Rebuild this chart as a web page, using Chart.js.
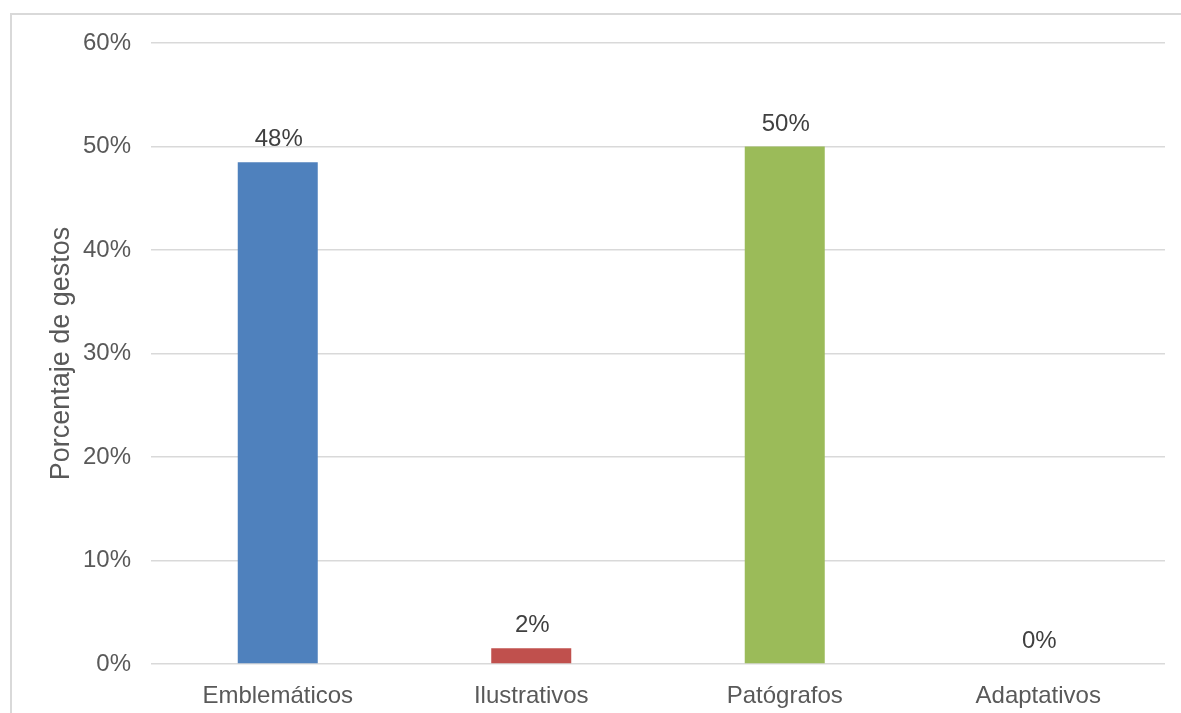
<!DOCTYPE html>
<html>
<head>
<meta charset="utf-8">
<script src="https://cdn.jsdelivr.net/npm/chart.js@4.4.1/dist/chart.umd.min.js"></script>
<style>
  html, body { margin: 0; padding: 0; background: #ffffff; }
  #wrap { position: relative; width: 1181px; height: 713px; }
</style>
</head>
<body>
<div id="wrap"><canvas id="c"></canvas></div>
<script>
const categories = ["Emblemáticos", "Ilustrativos", "Patógrafos", "Adaptativos"];
const values = [48.48, 1.52, 50, 0];
const barColors = ["#4F81BD", "#C0504D", "#9BBB59", "#8064A2"];
const yTicks = [0, 10, 20, 30, 40, 50, 60];
const yTitle = "Porcentaje de gestos";

const fontFamily = "'Liberation Sans', Arial, sans-serif";

const frame = {
  id: 'frame',
  beforeDraw(chart) {
    const ctx = chart.ctx;
    ctx.save();
    ctx.fillStyle = '#ffffff';
    ctx.fillRect(0, 0, chart.width, chart.height);
    ctx.strokeStyle = '#d9d9d9';
    ctx.lineWidth = 2;
    ctx.strokeRect(11, 14, 1300, 1000);
    ctx.restore();
  }
};

const dataLabels = {
  id: 'dataLabels',
  afterDatasetsDraw(chart) {
    const ctx = chart.ctx;
    const meta = chart.getDatasetMeta(0);
    ctx.save();
    ctx.font = "24px " + fontFamily;
    ctx.fillStyle = '#404040';
    ctx.textAlign = 'center';
    ctx.textBaseline = 'alphabetic';
    meta.data.forEach((bar, i) => {
      ctx.fillText(Math.round(values[i]) + '%', bar.x + 1, bar.y - 16);
    });
    ctx.restore();
  }
};

new Chart(document.getElementById('c'), {
  type: 'bar',
  data: {
    labels: categories,
    datasets: [{
      data: values,
      backgroundColor: barColors,
      borderWidth: 0,
      categoryPercentage: 1,
      barPercentage: 0.3156
    }]
  },
  options: {
    responsive: true,
    maintainAspectRatio: false,
    animation: false,
    layout: { padding: { top: 43, right: 16, left: 0, bottom: 0 } },
    plugins: { legend: { display: false }, tooltip: { enabled: false } },
    scales: {
      x: {
        grid: { display: false },
        border: { display: false },
        ticks: { color: '#595959', font: { family: fontFamily, size: 24 }, padding: 10, maxRotation: 0 },
        afterFit(scale) { scale.height = 49; }
      },
      y: {
        min: 0, max: 60,
        afterBuildTicks(scale) { scale.ticks = yTicks.map(v => ({ value: v })); },
        grid: { color: '#d9d9d9', lineWidth: 1.5, drawTicks: false },
        border: { display: false },
        ticks: {
          color: '#595959',
          font: { family: fontFamily, size: 24 },
          padding: 20,
          callback: (v) => v + '%'
        },
        title: {
          display: true,
          text: yTitle,
          color: '#595959',
          font: { family: fontFamily, size: 27, weight: 'normal' },
          padding: { top: 45, bottom: 0 }
        },
        afterFit(scale) { scale.width = 151; }
      }
    }
  },
  plugins: [frame, dataLabels]
});
</script>
</body>
</html>
